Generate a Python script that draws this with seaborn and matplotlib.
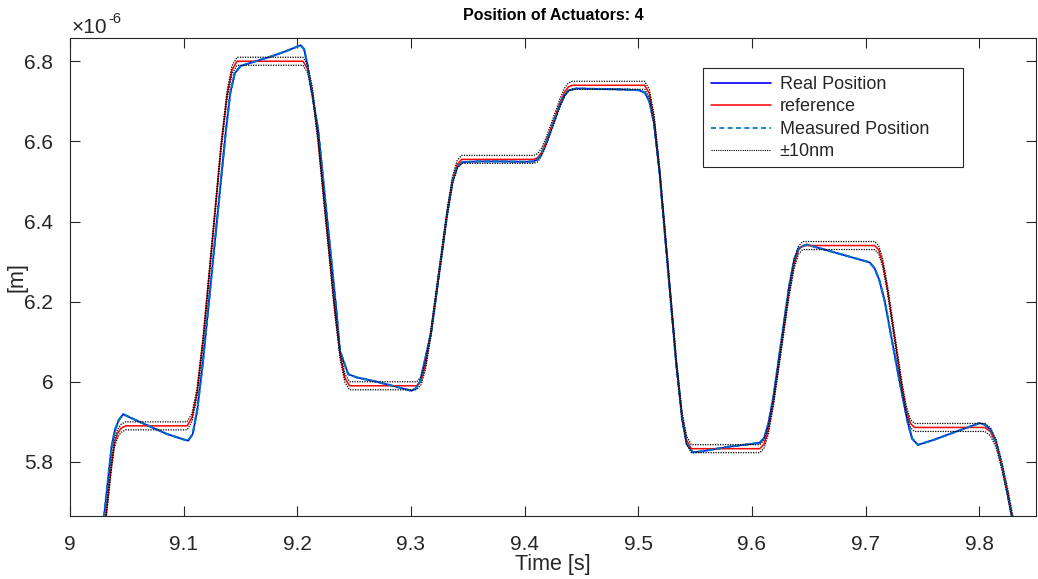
import matplotlib
matplotlib.use("Agg")
import matplotlib.pyplot as plt
import seaborn as sns
import numpy as np
import pandas as pd
from matplotlib.lines import Line2D
from matplotlib.patches import Rectangle

# ---------------- data (position in units of 1e-6 m) ----------------
ref_t = [9.020, 9.025, 9.0317, 9.036, 9.039, 9.042, 9.045, 9.049,
         9.103, 9.1074, 9.1118, 9.1171, 9.1329, 9.1382, 9.1426, 9.147,
         9.205, 9.2091, 9.2132, 9.2181, 9.2329, 9.2378, 9.2419, 9.246,
         9.305, 9.3090, 9.3129, 9.3176, 9.3319, 9.3366, 9.3406, 9.3445,
         9.408, 9.4114, 9.4148, 9.4189, 9.4311, 9.4352, 9.4386, 9.442,
         9.5057, 9.5098, 9.5139, 9.5188, 9.5336, 9.5385, 9.5426, 9.5467,
         9.607, 9.6108, 9.6145, 9.6191, 9.6326, 9.6372, 9.6409, 9.6447,
         9.708, 9.7115, 9.7150, 9.7192, 9.7318, 9.7360, 9.7395, 9.743,
         9.805, 9.810, 9.815, 9.820, 9.825, 9.830, 9.835, 9.850]
ref_y = [5.30, 5.48, 5.665, 5.78, 5.845, 5.872, 5.884, 5.890,
         5.890, 5.911, 5.974, 6.104, 6.586, 6.716, 6.779, 6.800,
         6.800, 6.781, 6.726, 6.610, 6.181, 6.064, 6.009, 5.990,
         5.990, 6.003, 6.042, 6.123, 6.422, 6.503, 6.542, 6.555,
         6.555, 6.559, 6.572, 6.599, 6.696, 6.723, 6.736, 6.740,
         6.740, 6.719, 6.657, 6.527, 6.046, 5.916, 5.854, 5.833,
         5.833, 5.845, 5.880, 5.952, 6.221, 6.293, 6.328, 6.340,
         6.340, 6.330, 6.298, 6.233, 5.993, 5.928, 5.896, 5.886,
         5.886, 5.875, 5.845, 5.790, 5.725, 5.650, 5.550, 5.250]

real_t = [9.020, 9.025, 9.030, 9.0366, 9.0396, 9.043, 9.0469, 9.055, 9.070, 9.085, 9.100, 9.104,
          9.108, 9.112, 9.117, 9.1372, 9.141, 9.145, 9.150, 9.160, 9.176, 9.190, 9.2029,
          9.206, 9.209, 9.211, 9.2184, 9.234, 9.2375, 9.2448, 9.2521, 9.270, 9.285, 9.3005,
          9.304, 9.308, 9.3176, 9.3319, 9.3366, 9.3406, 9.345, 9.360, 9.380, 9.400, 9.408,
          9.4114, 9.4148, 9.4189, 9.4311, 9.4352, 9.4386, 9.4457, 9.460, 9.480, 9.500, 9.5057,
          9.5098, 9.5139, 9.5188, 9.5336, 9.5385, 9.5426, 9.548, 9.555, 9.580, 9.600, 9.607,
          9.6108, 9.6145, 9.6191, 9.6326, 9.6372, 9.641, 9.648, 9.660, 9.680, 9.7036,
          9.708, 9.712, 9.7168, 9.730, 9.737, 9.741, 9.7461, 9.760, 9.780, 9.8003,
          9.805, 9.810, 9.815, 9.820, 9.825, 9.830, 9.835, 9.850]
real_y = [5.35, 5.50, 5.665, 5.838, 5.880, 5.905, 5.919, 5.908, 5.889, 5.870, 5.856, 5.853,
          5.870, 5.930, 6.050, 6.6275, 6.720, 6.770, 6.788, 6.797, 6.811, 6.825, 6.840,
          6.830, 6.790, 6.7525, 6.6275, 6.190, 6.0775, 6.019, 6.011, 6.000, 5.989, 5.9775,
          5.983, 6.000, 6.120, 6.420, 6.500, 6.535, 6.548, 6.550, 6.550, 6.549, 6.550,
          6.555, 6.568, 6.595, 6.690, 6.715, 6.727, 6.732, 6.731, 6.730, 6.728, 6.722,
          6.700, 6.645, 6.520, 6.040, 5.910, 5.845, 5.824, 5.826, 5.838, 5.845, 5.848,
          5.860, 5.895, 5.965, 6.235, 6.305, 6.333, 6.3425, 6.333, 6.317, 6.298,
          6.283, 6.255, 6.2025, 6.000, 5.900, 5.858, 5.8425, 5.855, 5.876, 5.8968,
          5.893, 5.880, 5.848, 5.790, 5.720, 5.645, 5.550, 5.260]

meas_t = list(real_t)
meas_y = list(real_y)

tolerance = 0.01  # 10 nm in units of 1e-6 m

x_ticks = [9.0, 9.1, 9.2, 9.3, 9.4, 9.5, 9.6, 9.7, 9.8]
x_labels = ["9", "9.1", "9.2", "9.3", "9.4", "9.5", "9.6", "9.7", "9.8"]
y_ticks = [5.8, 6.0, 6.2, 6.4, 6.6, 6.8]
y_labels = ["5.8", "6", "6.2", "6.4", "6.6", "6.8"]

# ---------------- plot ----------------
sns.set_theme(style="white")
plt.rcParams["font.family"] = ["Liberation Sans", "DejaVu Sans"]

W, H = 1038, 579
fig = plt.figure(figsize=(W / 100, H / 100), dpi=100)
ax = fig.add_axes([70 / W, 63 / H, 966 / W, 478 / H])

ref_df = pd.DataFrame({"t": ref_t, "y": ref_y})
real_df = pd.DataFrame({"t": real_t, "y": real_y})
meas_df = pd.DataFrame({"t": meas_t, "y": meas_y})

sns.lineplot(data=real_df, x="t", y="y", ax=ax, color="#0000FF", lw=1.2,
             sort=False, estimator=None)
sns.lineplot(data=ref_df, x="t", y="y", ax=ax, color="#FF0000", lw=1.1,
             sort=False, estimator=None)
sns.lineplot(data=meas_df, x="t", y="y", ax=ax, color="#0072BD", lw=1.6,
             sort=False, estimator=None, linestyle=(0, (3, 1)))
up = ref_df.assign(y=ref_df["y"] + tolerance)
lo = ref_df.assign(y=ref_df["y"] - tolerance)
for d in (up, lo):
    sns.lineplot(data=d, x="t", y="y", ax=ax, color="black", lw=0.9,
                 sort=False, estimator=None, linestyle=(0, (1, 1)))

ax.set_xlim(9.0, 9.85)
ax.set_ylim(5.665, 6.858)
ax.set_xticks(x_ticks)
ax.set_xticklabels(x_labels)
ax.set_yticks(y_ticks)
ax.set_yticklabels(y_labels)

txtc = "#262626"
ax.tick_params(direction="in", length=7, width=0.8, colors=txtc, labelsize=15,
               top=True, right=True, bottom=True, left=True)
ax.tick_params(axis="x", pad=14)
ax.tick_params(axis="y", pad=12)
for s in ax.spines.values():
    s.set_color(txtc)
    s.set_linewidth(0.8)

ax.set_xlabel("Time [s]", fontsize=15.5, color=txtc)
ax.xaxis.set_label_coords(0.5, -0.08)
ax.set_ylabel("[m]", fontsize=15.5, color=txtc)
ax.yaxis.set_label_coords(-0.0435, 0.5)
ax.set_title("Position of Actuators: 4", fontsize=11.5, fontweight="bold",
             color="black", pad=13)

ax.text(2 / 966, 5 / 478 + 1, "\u00d710", transform=ax.transAxes, fontsize=15,
        color=txtc, ha="left", va="baseline")
ax.text(38 / 966, 15 / 478 + 1, "-6", transform=ax.transAxes, fontsize=10.5,
        color=txtc, ha="left", va="baseline")

# legend box (MATLAB style, wide right margin)
box = Rectangle((703 / W, (H - 167) / H), 260 / W, 99 / H, transform=fig.transFigure,
                facecolor="white", edgecolor=txtc, linewidth=0.8, zorder=5)
fig.patches.append(box)

handles = [
    Line2D([], [], color="#0000FF", lw=1.2),
    Line2D([], [], color="#FF0000", lw=1.1),
    Line2D([], [], color="#0072BD", lw=1.2, linestyle=(0, (3, 2))),
    Line2D([], [], color="black", lw=0.8, linestyle=(0, (1, 1))),
]
labels = ["Real Position", "reference", "Measured Position", "\u00b110nm"]
leg = fig.legend(handles, labels, loc="upper left",
                 bbox_to_anchor=(711 / W, (H - 76) / H),
                 fontsize=13, frameon=False, handlelength=3.3,
                 handletextpad=0.5, borderpad=0.0, labelspacing=0.3,
                 borderaxespad=0)
leg.set_zorder(6)
for t in leg.get_texts():
    t.set_color(txtc)

fig.savefig("out.png", dpi=100)
